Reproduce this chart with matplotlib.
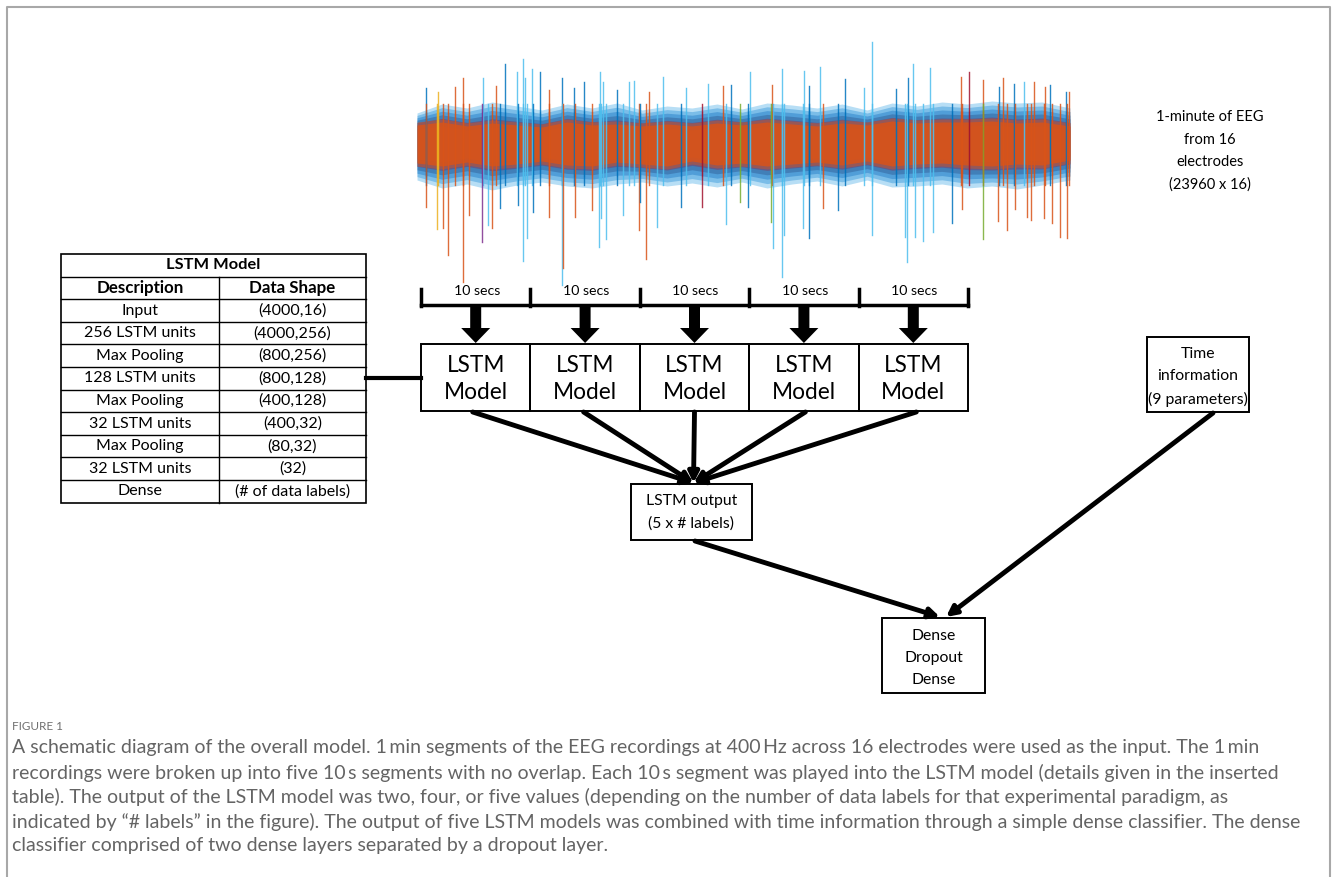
import matplotlib.pyplot as plt
import matplotlib.patches as patches

plt.rcParams['font.family'] = ['Lato', 'DejaVu Sans']

# EEG channel colours (MATLAB default order)
C = {'b': '#0072BD', 'o': '#D95319', 'y': '#EDB120', 'p': '#7E2F8E',
     'g': '#77AC30', 'l': '#4DBEEE', 'r': '#A2142F'}

# upward spikes of the EEG trace (x, peak y, colour)  [pixel coords]
spike_up_x = [426, 438, 455, 463, 483, 496, 505, 517, 523, 525, 532, 540, 549, 562, 574,
              584, 600, 603, 617, 629, 634, 649, 663, 686, 708, 723, 731, 750, 772, 782,
              804, 809, 820, 845, 864, 872, 896, 908, 913, 930, 961, 969, 983, 999, 1003,
              1014, 1024, 1034, 1045, 1050, 1066, 1069]
spike_up_y = [88, 92, 87, 78, 78, 86, 64, 72, 59, 78, 69, 72, 90, 78, 88,
              82, 72, 82, 90, 82, 81, 92, 77, 88, 84, 86, 85, 72, 85, 69,
              71, 86, 67, 79, 88, 42, 89, 78, 64, 68, 77, 72, 80, 87, 78,
              84, 82, 82, 87, 85, 92, 92]
spike_up_c = ['b', 'y', 'o', 'o', 'l', 'o', 'b', 'l', 'l', 'l', 'l', 'b', 'o', 'b', 'b',
              'b', 'l', 'l', 'b', 'l', 'l', 'o', 'l', 'l', 'l', 'o', 'b', 'l', 'o', 'l',
              'l', 'b', 'l', 'b', 'l', 'l', 'b', 'b', 'l', 'l', 'o', 'r', 'o', 'b', 'o',
              'b', 'l', 'o', 'o', 'b', 'b', 'o']

# downward spikes
spike_dn_x = [426, 437, 443, 448, 463, 469, 482, 488, 492, 500, 518, 523, 527, 533, 549,
              562, 563, 575, 592, 599, 601, 606, 623, 639, 640, 646, 657, 681, 702, 726,
              740, 748, 771, 773, 782, 784, 803, 809, 823, 838, 872, 905, 907, 915, 923,
              933, 952, 962, 983, 998, 1007, 1015, 1027, 1031, 1044, 1052, 1060, 1067]
spike_dn_y = [207, 229, 228, 255, 282, 215, 242, 225, 228, 208, 205, 261, 238, 212, 217,
              285, 268, 217, 210, 247, 218, 239, 215, 230, 202, 259, 227, 207, 207, 224,
              202, 207, 222, 248, 277, 235, 228, 238, 208, 210, 235, 237, 262, 237, 241,
              232, 223, 209, 239, 221, 230, 209, 217, 220, 218, 223, 237, 238]
spike_dn_c = ['o', 'y', 'o', 'o', 'o', 'o', 'p', 'l', 'o', 'b', 'b', 'l', 'l', 'b', 'o',
              'l', 'o', 'o', 'o', 'l', 'l', 'l', 'l', 'o', 'b', 'o', 'l', 'b', 'r', 'l',
              'g', 'b', 'g', 'l', 'l', 'l', 'l', 'b', 'o', 'b', 'l', 'l', 'l', 'l', 'l',
              'l', 'b', 'o', 'g', 'o', 'o', 'o', 'o', 'o', 'o', 'o', 'o', 'o']

# envelope of the dense band and of the orange core
band_x = [417, 442, 467, 492, 517, 542, 567, 592, 617, 642, 667, 692, 717, 742, 767, 792,
          817, 842, 867, 892, 917, 942, 967, 992, 1017, 1042, 1070]
band_top = [113, 104, 108, 102, 106, 110, 104, 108, 103, 110, 106, 108, 104, 109, 103, 105,
            108, 104, 110, 103, 106, 102, 104, 101, 103, 102, 108]
band_bot = [180, 188, 184, 190, 185, 182, 186, 188, 184, 182, 186, 183, 187, 182, 188, 184,
            181, 186, 180, 187, 186, 184, 188, 186, 189, 185, 180]
core_top = [125, 122, 126, 123, 125, 127, 122, 125, 124, 126, 124, 126, 123, 125, 122, 124,
            126, 123, 125, 121, 123, 122, 122, 121, 123, 122, 126]
core_bot = [163, 166, 162, 166, 164, 161, 165, 166, 162, 164, 166, 161, 165, 163, 166, 164,
            162, 165, 161, 166, 164, 163, 165, 166, 164, 165, 160]

eeg_note = ['1-minute of EEG', 'from 16', 'electrodes', '(23960 x 16)']

table_title = 'LSTM Model'
table_head = ['Description', 'Data Shape']
layer_desc = ['Input', '256 LSTM units', 'Max Pooling', '128 LSTM units', 'Max Pooling',
              '32 LSTM units', 'Max Pooling', '32 LSTM units', 'Dense']
layer_shape = ['(4000,16)', '(4000,256)', '(800,256)', '(800,128)', '(400,128)',
               '(400,32)', '(80,32)', '(32)', '(# of data labels)']

n_segments = 5
segment_label = '10 secs'
model_label = 'LSTM\nModel'
output_label = 'LSTM output\n(5 x # labels)'
time_label = 'Time\ninformation\n(9 parameters)'
dense_label = 'Dense\nDropout\nDense'

caption_head = 'FIGURE 1'
caption_lines = [
    'A schematic diagram of the overall model. 1\u2009min segments of the EEG recordings at 400\u2009Hz across 16 electrodes were used as the input. The 1\u2009min',
    'recordings were broken up into five 10\u2009s segments with no overlap. Each 10\u2009s segment was played into the LSTM model (details given in the inserted',
    'table). The output of the LSTM model was two, four, or five values (depending on the number of data labels for that experimental paradigm, as',
    'indicated by \u201c# labels\u201d in the figure). The output of five LSTM models was combined with time information through a simple dense classifier. The dense',
    'classifier comprised of two dense layers separated by a dropout layer.',
]

fig = plt.figure(figsize=(13.33, 8.77), dpi=100)
ax = fig.add_axes([0, 0, 1, 1])
ax.set_xlim(0, 1333)
ax.set_ylim(877, 0)
ax.axis('off')

# frame of the figure panel
ax.plot([7, 7, 1330, 1330], [877, 7, 7, 877], color='#a8a8a8', lw=1.5)

# ---- EEG trace: soft band, spikes, orange core
for f, col in [(0.0, '#7cc4ee'), (0.2, '#4aa2de'), (0.4, '#2f86cc'), (0.6, '#35669f'),
               (0.8, '#7a3f66')]:
    top = [a + f * (b - a) for a, b in zip(band_top, core_top)]
    bot = [a + f * (b - a) for a, b in zip(band_bot, core_bot)]
    ax.fill_between(band_x, top, bot, color=col, lw=0, alpha=0.55)
for i in range(len(spike_up_x)):
    ax.plot([spike_up_x[i], spike_up_x[i]], [spike_up_y[i], 185], color=C[spike_up_c[i]],
            lw=1.0, alpha=0.85)
for i in range(len(spike_dn_x)):
    ax.plot([spike_dn_x[i], spike_dn_x[i]], [104, spike_dn_y[i]], color=C[spike_dn_c[i]],
            lw=1.0, alpha=0.85)
ax.fill_between(band_x, [v - 3 for v in core_top], [v + 3 for v in core_bot],
                color=C['o'], lw=0, alpha=0.45)
ax.fill_between(band_x, core_top, core_bot, color=C['o'], lw=0, alpha=0.85)
# streaks of the channels running through the core
for i in range(len(spike_up_x)):
    ax.plot([spike_up_x[i], spike_up_x[i]], [112, 176], color=C[spike_up_c[i]],
            lw=0.9, alpha=0.45)
for i in range(len(spike_dn_x)):
    ax.plot([spike_dn_x[i], spike_dn_x[i]], [112, 176], color=C[spike_dn_c[i]],
            lw=0.9, alpha=0.45)
ax.fill_between(band_x, [v + 4 for v in core_top], [v - 4 for v in core_bot],
                color=C['o'], lw=0, alpha=0.4)

for k, s in enumerate(eeg_note):
    ax.text(1210, 117 + k * 22.5, s, ha='center', va='center', fontsize=10.5)

# ---- table
tx0, tx1, tx2 = 61, 219, 366
ty0, rh = 254, 22.6
nrows = 2 + len(layer_desc)
ax.add_patch(patches.Rectangle((tx0, ty0), tx2 - tx0, rh * nrows, fill=False, lw=1.2, ec='k'))
for r in range(1, nrows):
    ax.plot([tx0, tx2], [ty0 + r * rh] * 2, color='k', lw=1.0)
ax.plot([tx1, tx1], [ty0 + rh, ty0 + rh * nrows], color='k', lw=1.0)
ax.text((tx0 + tx2) / 2, ty0 + rh / 2, table_title, ha='center', va='center',
        fontsize=11.8, fontweight='bold')
ax.text((tx0 + tx1) / 2, ty0 + 1.5 * rh, table_head[0], ha='center', va='center',
        fontsize=12.2, fontweight='bold')
ax.text((tx1 + tx2) / 2, ty0 + 1.5 * rh, table_head[1], ha='center', va='center',
        fontsize=12.2, fontweight='bold')
for r in range(len(layer_desc)):
    yc = ty0 + (r + 2.5) * rh
    ax.text((tx0 + tx1) / 2, yc, layer_desc[r], ha='center', va='center', fontsize=11.5)
    ax.text((tx1 + tx2) / 2, yc, layer_shape[r], ha='center', va='center', fontsize=11.5)

# ---- segment brackets, arrows and LSTM boxes
bx0, bx1 = 421, 968
bw = (bx1 - bx0) / n_segments
ax.plot([bx0, bx1], [305, 305], color='k', lw=2.5)
for i in range(n_segments + 1):
    ax.plot([bx0 + i * bw] * 2, [289, 306], color='k', lw=2.5)
for i in range(n_segments):
    cx = bx0 + (i + 0.5) * bw
    ax.text(cx + 1, 291, segment_label, ha='center', va='center', fontsize=10.2)
    ax.add_patch(patches.FancyArrow(cx, 306, 0, 37, width=11, head_width=29, head_length=15,
                                    length_includes_head=True, color='k', lw=0))
    ax.add_patch(patches.Rectangle((bx0 + i * bw, 344), bw, 67, fill=False, lw=1.4, ec='k'))
    ax.text(cx, 379, model_label, ha='center', va='center', fontsize=16.3, linespacing=1.3)

# link table -> models
ax.plot([tx2, bx0], [378, 378], color='k', lw=3)

def arrow(x0, y0, x1, y1):
    ax.annotate('', xy=(x1, y1), xytext=(x0, y0),
                arrowprops=dict(arrowstyle='-|>', lw=3.5, color='k', mutation_scale=15,
                                shrinkA=0, shrinkB=0))

ox0, ox1, oy0, oy1 = 631, 752, 484, 540
for i in range(n_segments):
    cx = bx0 + (i + 0.5) * bw
    sx = cx + (i - 2) * 1.5
    arrow(sx, 412, (ox0 + ox1) / 2 + 2, oy0 - 1)
ax.add_patch(patches.Rectangle((ox0, oy0), ox1 - ox0, oy1 - oy0, fill=False, lw=1.4, ec='k'))
ax.text((ox0 + ox1) / 2, (oy0 + oy1) / 2, output_label, ha='center', va='center',
        fontsize=11.3, linespacing=1.75)

# time information box
ax.add_patch(patches.Rectangle((1147, 337), 102, 75, fill=False, lw=1.4, ec='k'))
ax.text(1198, 377, time_label, ha='center', va='center', fontsize=11.3, linespacing=1.72)

# dense classifier box
dx0, dx1, dy0, dy1 = 882, 985, 618, 693
ax.add_patch(patches.Rectangle((dx0, dy0), dx1 - dx0, dy1 - dy0, fill=False, lw=1.4, ec='k'))
ax.text((dx0 + dx1) / 2, 658, dense_label, ha='center', va='center',
        fontsize=11.3, linespacing=1.72)
arrow(695, 541, 940, dy0 - 1)
arrow(1213, 413, 946, dy0 - 1)

# ---- caption
ax.text(12, 726, caption_head, ha='left', va='center', fontsize=8.5, color='#707070')
for k, line in enumerate(caption_lines):
    ax.text(12, 748 + k * 24.5, line, ha='left', va='center', fontsize=14.0,
            color='#646464')

fig.savefig('out.png', dpi=100)
